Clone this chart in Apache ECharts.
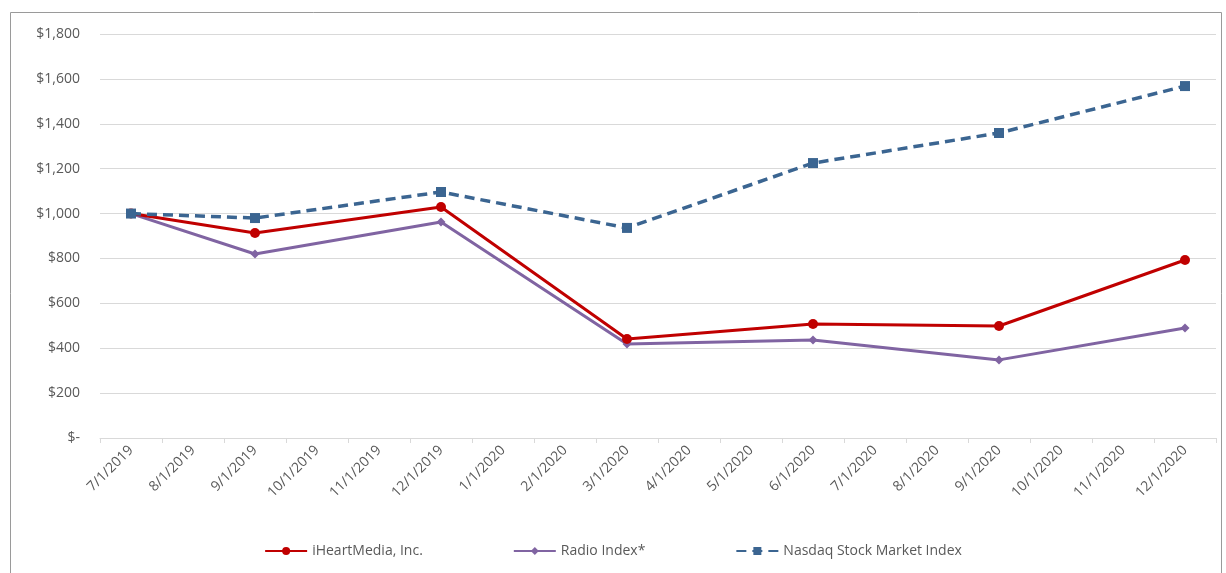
<!DOCTYPE html>
<html>
<head>
<meta charset="utf-8">
<script src="https://cdn.jsdelivr.net/npm/echarts@6/dist/echarts.min.js"></script>
<style>html,body{margin:0;padding:0;background:#fff}#c{width:1226px;height:573px}</style>
</head>
<body>
<div id="c"></div>
<script>
const categories = ['7/1/2019','8/1/2019','9/1/2019','10/1/2019','11/1/2019','12/1/2019','1/1/2020','2/1/2020','3/1/2020','4/1/2020','5/1/2020','6/1/2020','7/1/2020','8/1/2020','9/1/2020','10/1/2020','11/1/2020','12/1/2020'];
const iheart = [1000,null,913,null,null,1029,null,null,441,null,null,508,null,null,499,null,null,793];
const radio  = [1000,null,820,null,null,962,null,null,419,null,null,437,null,null,348,null,null,490];
const nasdaq = [1000,null,980,null,null,1096,null,null,936,null,null,1225,null,null,1359,null,null,1568];
const yTicks = [0,200,400,600,800,1000,1200,1400,1600,1800];

const chart = echarts.init(document.getElementById('c'));
const font = 'Open Sans, Liberation Sans, sans-serif';
chart.setOption({
  animation: false,
  graphic: [{type:'rect', shape:{x:10.5,y:12.5,width:1211,height:580}, style:{fill:'none', stroke:'#9a9a9a', lineWidth:1}, silent:true}],
  grid: {left:100, right:10, top:34, bottom:135},
  legend: {
    bottom: 10, left: 'center', itemGap: 90, itemWidth: 42, itemHeight: 10,
    textStyle: {color:'#595959', fontSize:14, fontFamily:font},
    data: ['iHeartMedia, Inc.','Radio Index*','Nasdaq Stock Market Index']
  },
  xAxis: {
    type:'category', data: categories, boundaryGap: true,
    axisLine:{lineStyle:{color:'#d9d9d9'}},
    axisTick:{show:true, length:5, lineStyle:{color:'#d9d9d9'}},
    axisLabel:{rotate:45, color:'#595959', fontSize:14, fontFamily:font, interval:0, margin:10}
  },
  yAxis: {
    type:'value', min: yTicks[0], max: yTicks[yTicks.length-1], interval: 200,
    axisLine:{show:false}, axisTick:{show:false},
    splitLine:{lineStyle:{color:'#d9d9d9'}},
    axisLabel:{color:'#595959', fontSize:14, fontFamily:font, margin:20,
      formatter: v => v === 0 ? '$-' : '$' + v.toLocaleString('en-US')}
  },
  series: [
    {name:'iHeartMedia, Inc.', type:'line', data: iheart, connectNulls:true,
     symbol:'circle', symbolSize:10, lineStyle:{color:'#C00000', width:3},
     itemStyle:{color:'#C00000'}, z:3},
    {name:'Radio Index*', type:'line', data: radio, connectNulls:true,
     symbol:'diamond', symbolSize:9, lineStyle:{color:'#8064A2', width:3},
     itemStyle:{color:'#8064A2'}, z:2},
    {name:'Nasdaq Stock Market Index', type:'line', data: nasdaq, connectNulls:true,
     symbol:'rect', symbolSize:10, lineStyle:{color:'#3B6591', width:3.5, type:[10,6]},
     itemStyle:{color:'#3B6591'}, z:4}
  ]
});
</script>
</body>
</html>
